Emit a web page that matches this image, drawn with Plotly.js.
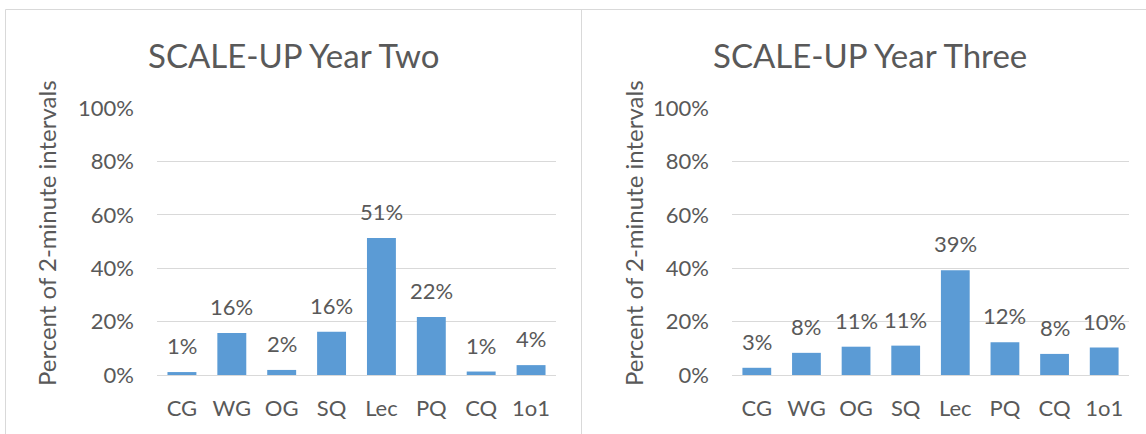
<!DOCTYPE html>
<html>
<head>
<meta charset="utf-8">
<script src="https://cdn.plot.ly/plotly-3.0.1.min.js"></script>
<style>html,body{margin:0;padding:0;background:#fff;}#chart{width:1146px;height:434px;}</style>
</head>
<body>
<div id="chart"></div>
<script>
const categories = ["CG", "WG", "OG", "SQ", "Lec", "PQ", "CQ", "1o1"];
const yearTwo = [1.1, 15.7, 1.9, 16.2, 51.3, 21.7, 1.3, 3.7];
const yearThree = [2.7, 8.3, 10.6, 11.0, 39.2, 12.3, 7.9, 10.3];
const yearTwoLabels = ["1%", "16%", "2%", "16%", "51%", "22%", "1%", "4%"];
const yearThreeLabels = ["3%", "8%", "11%", "11%", "39%", "12%", "8%", "10%"];
const yTickVals = [0, 20, 40, 60, 80, 100];
const yTickText = ["0%", "20%", "40%", "60%", "80%", "100%"];
const titles = ["SCALE-UP Year Two", "SCALE-UP Year Three"];
const yTitle = "Percent of 2-minute intervals";

const FONT = "Lato, 'Open Sans', sans-serif";
const TXT = "#595959";
const GRID = "#D9D9D9";
const BAR = "#5B9BD5";
const W = 1146, H = 434;

const traces = [
  {type: "bar", x: categories, y: yearTwo, xaxis: "x", yaxis: "y", marker: {color: BAR}, hoverinfo: "none"},
  {type: "bar", x: categories, y: yearThree, xaxis: "x2", yaxis: "y2", marker: {color: BAR}, hoverinfo: "none"}
];

function yax(domainAnchor) {
  return {
    domain: [(H - 375) / H, (H - 108) / H],
    range: [0, 100],
    tickvals: yTickVals, ticktext: yTickText,
    showgrid: true, gridcolor: GRID, gridwidth: 1,
    zeroline: true, zerolinecolor: GRID, zerolinewidth: 1,
    showline: false, ticks: "",
    ticklabelstandoff: 22,
    tickfont: {family: FONT, size: 22, color: TXT},
    anchor: domainAnchor, fixedrange: true
  };
}
function xax(d, anchor) {
  return {
    domain: d, type: "category", range: [-0.5, 7.5],
    showgrid: false, zeroline: false, showline: false, ticks: "",
    ticklabelstandoff: 18,
    tickfont: {family: FONT, size: 22, color: TXT},
    anchor: anchor, fixedrange: true
  };
}

const annotations = [];
const sets = [[yearTwo, yearTwoLabels, "x", "y"], [yearThree, yearThreeLabels, "x2", "y2"]];
sets.forEach(([vals, labs, xr, yr]) => {
  vals.forEach((v, i) => {
    annotations.push({
      xref: xr, yref: yr, x: categories[i], y: v, text: labs[i],
      showarrow: false, yanchor: "bottom", yshift: 11,
      font: {family: FONT, size: 22, color: TXT}
    });
  });
});
annotations.push({xref: "paper", yref: "paper", x: 293 / W, y: (H - 55) / H, text: titles[0],
  showarrow: false, xanchor: "center", yanchor: "middle", font: {family: FONT, size: 33, color: TXT}});
annotations.push({xref: "paper", yref: "paper", x: 870 / W, y: (H - 55) / H, text: titles[1],
  showarrow: false, xanchor: "center", yanchor: "middle", font: {family: FONT, size: 33, color: TXT}});
annotations.push({xref: "paper", yref: "paper", x: 46 / W, y: (H - 233) / H, text: yTitle, textangle: -90,
  showarrow: false, xanchor: "center", yanchor: "middle", font: {family: FONT, size: 24, color: TXT}});
annotations.push({xref: "paper", yref: "paper", x: 633 / W, y: (H - 233) / H, text: yTitle, textangle: -90,
  showarrow: false, xanchor: "center", yanchor: "middle", font: {family: FONT, size: 24, color: TXT}});

const BORDER = "#D9D9D9";
const shapes = [
  {type: "line", xref: "paper", yref: "paper", x0: 5.5 / W, x1: 1, y0: (H - 9.5) / H, y1: (H - 9.5) / H, line: {color: BORDER, width: 1}},
  {type: "line", xref: "paper", yref: "paper", x0: 5.5 / W, x1: 5.5 / W, y0: 0, y1: (H - 9.5) / H, line: {color: BORDER, width: 1}},
  {type: "line", xref: "paper", yref: "paper", x0: 581.5 / W, x1: 581.5 / W, y0: 0, y1: (H - 9.5) / H, line: {color: BORDER, width: 1}}
];

const layout = {
  width: W, height: H,
  margin: {l: 0, r: 0, t: 0, b: 0},
  paper_bgcolor: "#fff", plot_bgcolor: "#fff",
  showlegend: false, bargap: 0.42,
  xaxis: xax([157 / W, 556 / W], "y"),
  yaxis: yax("x"),
  xaxis2: xax([732 / W, 1129 / W], "y2"),
  yaxis2: yax("x2"),
  annotations: annotations, shapes: shapes,
  font: {family: FONT, color: TXT}
};

Plotly.newPlot("chart", traces, layout, {staticPlot: true, displayModeBar: false});
</script>
</body>
</html>
